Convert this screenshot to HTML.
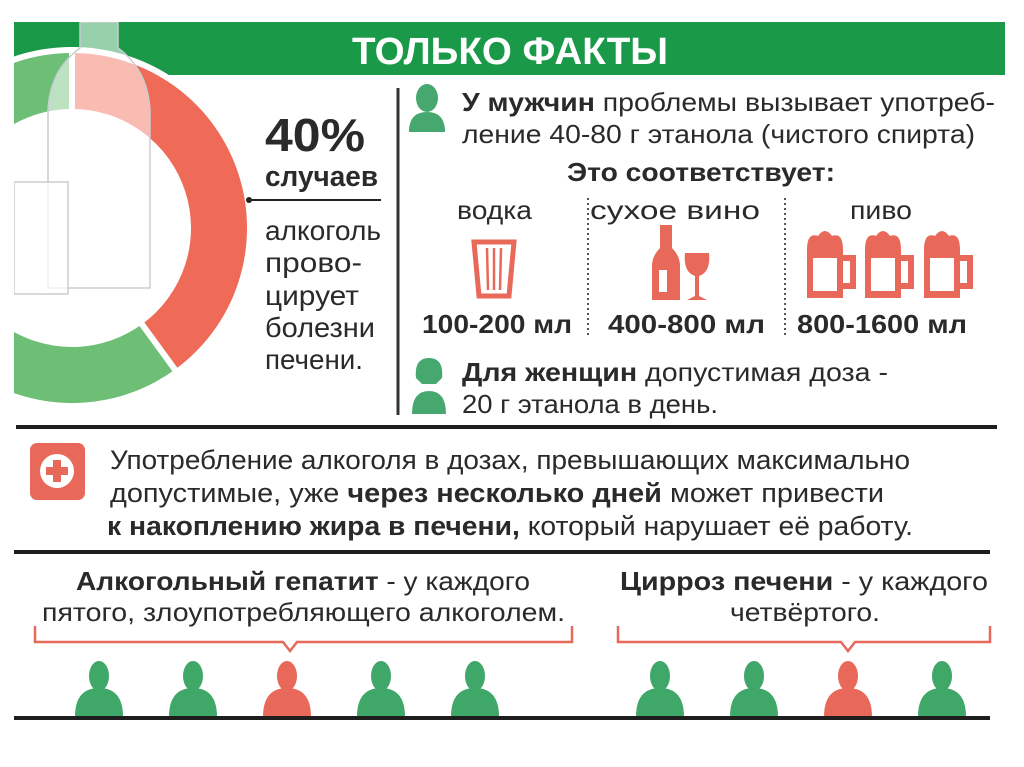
<!DOCTYPE html>
<html><head><meta charset="utf-8">
<style>
html,body{margin:0;padding:0;background:#fff;}
svg{display:block;}
text{font-family:"Liberation Sans Narrow","Liberation Sans","Noto Sans CJK SC",sans-serif;fill:#2a2a2a;}
.b{font-weight:bold;}
</style></head>
<body>
<svg width="1024" height="767" viewBox="0 0 1024 767" xmlns="http://www.w3.org/2000/svg">
<defs>
  <clipPath id="dc"><rect x="14" y="22" width="380" height="392"/></clipPath>
</defs>
<rect x="0" y="0" width="1024" height="767" fill="#fff"/>
<rect x="14" y="22" width="991" height="53" fill="#1a9a48"/>
<text x="352" y="64" class="b" font-size="38" style="fill:#fff" textLength="316" lengthAdjust="spacingAndGlyphs">ТОЛЬКО ФАКТЫ</text>

<g id="donut" clip-path="url(#dc)"></g>
<g clip-path="url(#dc)">
  <path d="M80 22 L80 48 Q50 70 48 110 L48 288 L150 288 L150 110 Q148 70 118 48 L118 22 Z" fill="#ffffff" fill-opacity="0.55" stroke="#c8cdd0" stroke-width="1.5"/>
  <rect x="14" y="182" width="54" height="112" fill="#ffffff" fill-opacity="0.7" stroke="#c8cdd0" stroke-width="1.5"/>
</g>

<text x="265" y="151" class="b" font-size="46" textLength="100" lengthAdjust="spacingAndGlyphs">40%</text>
<text x="265" y="186" class="b" font-size="29" textLength="113" lengthAdjust="spacingAndGlyphs">случаев</text>
<line x1="248" y1="200" x2="381" y2="200" stroke="#222" stroke-width="2"/>
<circle cx="249" cy="200" r="3" fill="#222"/>
<g font-size="28">
<text x="265" y="240" textLength="116" lengthAdjust="spacingAndGlyphs">алкоголь</text>
<text x="265" y="272" textLength="97" lengthAdjust="spacingAndGlyphs">прово-</text>
<text x="265" y="305" textLength="94" lengthAdjust="spacingAndGlyphs">цирует</text>
<text x="265" y="337" textLength="110" lengthAdjust="spacingAndGlyphs">болезни</text>
<text x="265" y="369" textLength="98" lengthAdjust="spacingAndGlyphs">печени.</text>
</g>
<line x1="398" y1="88" x2="398" y2="415" stroke="#333" stroke-width="3"/>

<g fill="#46a86e">
  <ellipse cx="427" cy="98" rx="11" ry="14"/>
  <path d="M409 132 Q409 112 427 112 Q445 112 445 132 Z"/>
</g>
<text x="462" y="111" font-size="26" textLength="533" lengthAdjust="spacingAndGlyphs"><tspan class="b">У мужчин</tspan> проблемы вызывает употреб-</text>
<text x="462" y="143" font-size="26" textLength="513" lengthAdjust="spacingAndGlyphs">ление 40-80 г этанола (чистого спирта)</text>
<text x="567" y="181" class="b" font-size="26" textLength="268" lengthAdjust="spacingAndGlyphs">Это соответствует:</text>

<text x="457" y="219" font-size="26" textLength="75" lengthAdjust="spacingAndGlyphs">водка</text>
<text x="590" y="219" font-size="26" textLength="170" lengthAdjust="spacingAndGlyphs">сухое вино</text>
<text x="850" y="219" font-size="26" textLength="62" lengthAdjust="spacingAndGlyphs">пиво</text>
<line x1="588" y1="198" x2="588" y2="336" stroke="#555" stroke-width="2" stroke-dasharray="2 3"/>
<line x1="785" y1="198" x2="785" y2="336" stroke="#555" stroke-width="2" stroke-dasharray="2 3"/>

<g fill="none" stroke="#e8685a" stroke-width="5">
  <path d="M474 242 L514 242 L509 296 L479 296 Z"/>
  <line x1="487" y1="248" x2="488" y2="290" stroke-width="2.5"/><line x1="494" y1="248" x2="494" y2="290" stroke-width="2.5"/><line x1="501" y1="248" x2="500" y2="290" stroke-width="2.5"/>
</g>
<g fill="#e8685a">
  <path d="M660 225 L672 225 L672 248 Q680 256 680 266 L680 300 L652 300 L652 266 Q652 256 660 248 Z"/>
  <rect x="659" y="270" width="8" height="22" fill="#fff"/>
  <path d="M685 253 L709 253 Q711 272 699 276 L699 296 L707 300 L687 300 L695 296 L695 276 Q683 272 685 253 Z"/>
</g>
<g>
  <g><path d="M807 250 Q807 232 818 236 Q825 226 832 236 Q843 232 843 250 L843 298 L807 298 Z" fill="#e8685a"/><rect x="813" y="258" width="24" height="33" fill="#fff"/><path d="M843 258 L853 258 L853 286 L843 286" fill="none" stroke="#e8685a" stroke-width="6"/></g>
  <g><path d="M865 250 Q865 232 876 236 Q883 226 890 236 Q901 232 901 250 L901 298 L865 298 Z" fill="#e8685a"/><rect x="871" y="258" width="24" height="33" fill="#fff"/><path d="M901 258 L911 258 L911 286 L901 286" fill="none" stroke="#e8685a" stroke-width="6"/></g>
  <g><path d="M924 250 Q924 232 935 236 Q942 226 949 236 Q960 232 960 250 L960 298 L924 298 Z" fill="#e8685a"/><rect x="930" y="258" width="24" height="33" fill="#fff"/><path d="M960 258 L970 258 L970 286 L960 286" fill="none" stroke="#e8685a" stroke-width="6"/></g>
</g>

<text x="422" y="333" class="b" font-size="26" textLength="150" lengthAdjust="spacingAndGlyphs">100-200 мл</text>
<text x="608" y="333" class="b" font-size="26" textLength="157" lengthAdjust="spacingAndGlyphs">400-800 мл</text>
<text x="797" y="333" class="b" font-size="26" textLength="170" lengthAdjust="spacingAndGlyphs">800-1600 мл</text>

<g fill="#46a86e">
  <path d="M416 378 Q414 358 429 358 Q444 358 442 378 L436 384 L422 384 Z"/>
  <path d="M412 414 Q412 391 429 391 Q446 391 446 414 Z"/>
</g>
<text x="462" y="381" font-size="26" textLength="426" lengthAdjust="spacingAndGlyphs"><tspan class="b">Для женщин</tspan> допустимая доза -</text>
<text x="462" y="413" font-size="26" textLength="256" lengthAdjust="spacingAndGlyphs">20 г этанола в день.</text>

<rect x="16" y="425" width="981" height="4" fill="#1e1e1e"/>

<g>
  <rect x="30" y="443" width="55" height="57" rx="7" fill="#e8685a"/>
  <circle cx="57" cy="471" r="17" fill="#fff"/>
  <rect x="53" y="460" width="8" height="22" fill="#e8685a"/><rect x="46" y="467" width="22" height="8" fill="#e8685a"/>
</g>
<g font-size="27">
<text x="110" y="469" textLength="800" lengthAdjust="spacingAndGlyphs">Употребление алкоголя в дозах, превышающих максимально</text>
<text x="110" y="502" textLength="774" lengthAdjust="spacingAndGlyphs">допустимые, уже <tspan class="b">через несколько дней</tspan> может привести</text>
<text x="107" y="535" textLength="806" lengthAdjust="spacingAndGlyphs"><tspan class="b">к накоплению жира в печени,</tspan> который нарушает её работу.</text>
</g>

<rect x="14" y="550" width="976" height="4" fill="#1e1e1e"/>

<text x="76" y="590" font-size="26" textLength="454" lengthAdjust="spacingAndGlyphs"><tspan class="b">Алкогольный гепатит</tspan> - у каждого</text>
<text x="42" y="621" font-size="26" textLength="523" lengthAdjust="spacingAndGlyphs">пятого, злоупотребляющего алкоголем.</text>
<text x="620" y="590" font-size="26" textLength="368" lengthAdjust="spacingAndGlyphs"><tspan class="b">Цирроз печени</tspan> - у каждого</text>
<text x="730" y="621" font-size="26" textLength="150" lengthAdjust="spacingAndGlyphs">четвёртого.</text>

<path d="M35 626 L35 642 L283 642 L290 651 L297 642 L572 642 L572 626" fill="none" stroke="#e8685a" stroke-width="2.5"/>
<path d="M618 626 L618 642 L841 642 L848 651 L855 642 L990 642 L990 626" fill="none" stroke="#e8685a" stroke-width="2.5"/>

<g id="people"></g>
<rect x="14" y="716" width="976" height="4" fill="#1e1e1e"/>
</svg>

<script>
var NS = "http://www.w3.org/2000/svg";
var donutLabels = ["liver-disease", "other"];
var donutValues = [40, 60];
var donutColors = ["#ef6a57", "#6cbf75"];
var hepatitisCount = 5;
var hepatitisAffected = [3];
var cirrhosisCount = 4;
var cirrhosisAffected = [3];

function mk(tag, attrs) {
  var e = document.createElementNS(NS, tag);
  for (var k in attrs) e.setAttribute(k, attrs[k]);
  return e;
}

var dg = document.getElementById("donut");
var cx = 72, cy = 228, R = 178, r = 116;
var total = 0;
for (var i = 0; i < donutValues.length; i++) total += donutValues[i];
function pt(rad, a) {
  var t = a / total * 2 * Math.PI;
  return (cx + rad * Math.sin(t)).toFixed(2) + " " + (cy - rad * Math.cos(t)).toFixed(2);
}
var a0 = 0;
for (var i = 0; i < donutValues.length; i++) {
  var v = donutValues[i], a1 = a0 + v, large = v / total > 0.5 ? 1 : 0;
  var d = "M" + pt(R, a0) + " A" + R + " " + R + " 0 " + large + " 1 " + pt(R, a1) +
          " L" + pt(r, a1) + " A" + r + " " + r + " 0 " + large + " 0 " + pt(r, a0) + " Z";
  var p = mk("path", {d: d, fill: donutColors[i], stroke: "#fff", "stroke-width": "6"});
  
  
  dg.appendChild(p);
  a0 = a1;
}

var pg = document.getElementById("people");
function person(x, red, name) {
  var c = red ? "#e8685a" : "#3fa768";
  var g = mk("g", {});
  
  
  g.appendChild(mk("ellipse", {cx: x, cy: 676, rx: 10, ry: 15, fill: c}));
  g.appendChild(mk("path", {d: "M" + (x - 24) + " 717 Q" + (x - 24) + " 688 " + x + " 688 Q" + (x + 24) + " 688 " + (x + 24) + " 717 Z", fill: c}));
  pg.appendChild(g);
}
var step = 94;
for (var i = 0; i < hepatitisCount; i++) person(99 + i * step, hepatitisAffected.indexOf(i + 1) >= 0, 'hepatitis-person-' + (i + 1));
for (var j = 0; j < cirrhosisCount; j++) person(660 + j * step, cirrhosisAffected.indexOf(j + 1) >= 0, 'cirrhosis-person-' + (j + 1));
</script>
</body></html>
